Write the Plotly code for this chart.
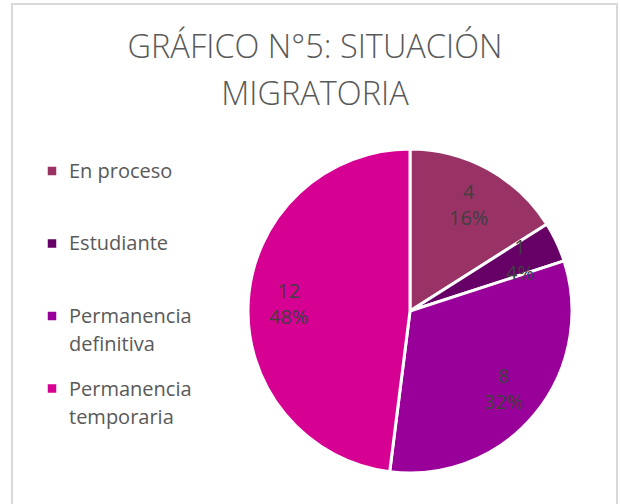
import math
import plotly.graph_objects as go

# ---- data ----
categories = ["En proceso", "Estudiante", "Permanencia definitiva", "Permanencia temporaria"]
legend_lines = [["En proceso"], ["Estudiante"], ["Permanencia", "definitiva"], ["Permanencia", "temporaria"]]
values = [4, 1, 8, 12]
colors = ["#993366", "#660066", "#990099", "#D60093"]
title_lines = ["GRÁFICO N°5: SITUACIÓN", "MIGRATORIA"]

W, H = 620, 504
CX, CY, R = 410, 311, 162          # pie centre / radius in px
LABEL_R = 0.75                      # label distance as fraction of radius

fig = go.Figure()
fig.add_trace(go.Pie(
    labels=categories,
    values=values,
    sort=False,
    direction="clockwise",
    rotation=0,
    marker=dict(colors=colors, line=dict(color="white", width=3)),
    textinfo="none",
    hoverinfo="label+value+percent",
    showlegend=False,
    domain=dict(x=[(CX - R) / W, (CX + R) / W], y=[1 - (CY + R) / H, 1 - (CY - R) / H]),
))

annotations = []
shapes = []

# data labels placed from cumulative values
total = sum(values)
cum = 0
for v in values:
    mid = (cum + v / 2) / total * 2 * math.pi
    cum += v
    px = CX + LABEL_R * R * math.sin(mid)
    py = CY - LABEL_R * R * math.cos(mid)
    annotations.append(dict(
        x=px / W, y=1 - py / H, xref="paper", yref="paper",
        text="%d<br>%d%%" % (v, round(v / total * 100)),
        showarrow=False, xanchor="center", yanchor="middle",
        font=dict(family="Open Sans", size=20, color="#404040"),
    ))

# legend (left column): swatch + wrapped label
LEG_X_SW, LEG_X_TXT = 52, 67
LEG_Y0, LEG_PITCH = 171, 72.5
SW = 8.5
for i, (lines, col) in enumerate(zip(legend_lines, colors)):
    yc = LEG_Y0 + i * LEG_PITCH
    shapes.append(dict(type="rect", xref="paper", yref="paper",
                       x0=(LEG_X_SW - SW / 2) / W, x1=(LEG_X_SW + SW / 2) / W,
                       y0=1 - (yc + SW / 2) / H, y1=1 - (yc - SW / 2) / H,
                       fillcolor=col, line=dict(width=0)))
    annotations.append(dict(
        x=LEG_X_TXT / W, y=1 - (yc - 16) / H, xref="paper", yref="paper",
        text="<br>".join("<span style='font-size:20px'>%s</span>" % t for t in lines),
        showarrow=False, xanchor="left", yanchor="top", align="left",
        font=dict(family="Open Sans", size=21.5, color="#595959"),
    ))

# chart frame
shapes.append(dict(type="rect", xref="paper", yref="paper",
                   x0=12 / W, x1=617 / W, y0=-0.05, y1=1 - 4 / H,
                   line=dict(color="#D9D9D9", width=2), fillcolor="rgba(0,0,0,0)", layer="below"))

fig.update_layout(
    width=W, height=H,
    margin=dict(l=0, r=0, t=0, b=0),
    paper_bgcolor="white",
    plot_bgcolor="white",
    title=dict(
        text="<br>".join("<span style='font-size:32.5px'>%s</span>" % t for t in title_lines),
        x=315 / W, xanchor="center", xref="paper",
        y=1 - 58 / H, yanchor="middle", yref="container",
        font=dict(family="Open Sans", size=36, color="#595959", weight=300),
    ),
    annotations=annotations,
    shapes=shapes,
)

fig.write_html("out.html", config={"displayModeBar": False},
               post_script="document.body.style.margin='0';")
